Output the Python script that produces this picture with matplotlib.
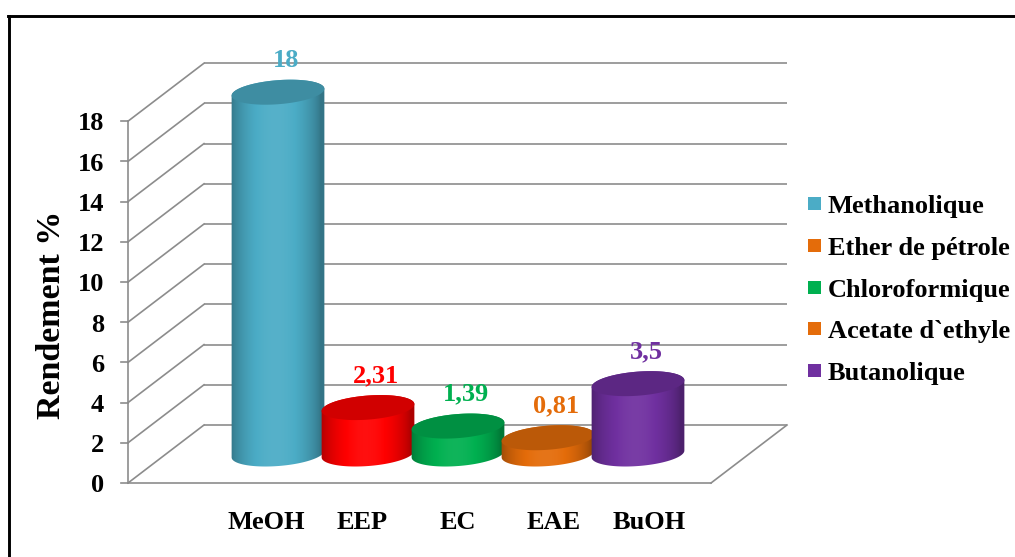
import numpy as np
import matplotlib
matplotlib.use("Agg")
import matplotlib.pyplot as plt
from matplotlib.patches import Polygon, Rectangle
from matplotlib.colors import to_rgb

# ---------------- data ----------------
categories = ["MeOH", "EEP", "EC", "EAE", "BuOH"]
values = [18, 2.31, 1.39, 0.81, 3.5]
value_labels = ["18", "2,31", "1,39", "0,81", "3,5"]
bar_colors = ["#4BACC6", "#FF0000", "#00B050", "#E46C0A", "#7030A0"]
label_colors = ["#4BACC6", "#FF0000", "#00B050", "#E46C0A", "#7030A0"]
legend_labels = ["Methanolique", "Ether de pétrole", "Chloroformique",
                 "Acetate d`ethyle", "Butanolique"]
legend_colors = ["#4BACC6", "#E46C0A", "#00B050", "#E46C0A", "#7030A0"]
y_ticks = [0, 2, 4, 6, 8, 10, 12, 14, 16, 18]
y_label = "Rendement %"

# ---------------- layout ----------------
W, H = 1015, 557
CAT_PX = 90.0      # pixels per category step
VAL_PX = 20.1      # pixels per value unit
X0, Y0 = 240.0, 483.0  # pixel position of (category 0, value 0) on the front plane
DEPTH_PX = (76.0, 58.0)
DX, DY = DEPTH_PX[0] / CAT_PX, DEPTH_PX[1] / VAL_PX
RX, RY, TILT = 46.5, 12.0, np.deg2rad(4.5)
FONT = "Liberation Serif"
GRID_C = "#8C8C8C"


def pxX(p):
    return (p - X0) / CAT_PX


def pxY(p):
    return (Y0 - p) / VAL_PX


fig = plt.figure(figsize=(W / 100, H / 100), dpi=100)
ax = fig.add_axes([0, 0, 1, 1])
ax.set_xlim(pxX(0), pxX(W))
ax.set_ylim(pxY(H), pxY(0))
ax.axis("off")

xl = pxX(128)
xr = pxX(711)

# walls and floor
for v in y_ticks:
    ax.plot([xl + DX, xr + DX], [v + DY, v + DY], color=GRID_C, lw=1.2, zorder=1,
            solid_capstyle="butt")
    ax.plot([xl, xl + DX], [v, v + DY], color=GRID_C, lw=1.2, zorder=1)
    ax.plot([xl - 7 / CAT_PX, xl], [v, v], color=GRID_C, lw=1.2, zorder=1)
    ax.text(xl - 24 / CAT_PX, v - 9.3 / VAL_PX, str(v), ha="right", va="baseline",
            fontsize=19, fontweight="bold", family=FONT, color="black")
ax.plot([xl, xl], [0, y_ticks[-1]], color=GRID_C, lw=1.2, zorder=1)
ax.plot([xl, xr], [0, 0], color=GRID_C, lw=1.2, zorder=1)
ax.plot([xr, xr + DX], [0, DY], color=GRID_C, lw=1.2, zorder=1)


def shade(rgb, s):
    rgb = np.array(rgb)
    if s <= 1:
        return rgb * s
    return rgb + (1 - rgb) * (s - 1)


def ell(cx, cy, t):
    ex, ey = RX * np.cos(t), RY * np.sin(t)
    X = ex * np.cos(TILT) - ey * np.sin(TILT)
    Y = ex * np.sin(TILT) + ey * np.cos(TILT)
    return cx + X / CAT_PX, cy + Y / VAL_PX


tR = np.arctan2(-RY * np.sin(TILT), RX * np.cos(TILT))
tL = tR + np.pi

for i, (v, c) in enumerate(zip(values, bar_colors)):
    base = to_rgb(c)
    cx = i + 0.5 * DX
    y0 = 0.5 * DY
    y1 = y0 + v
    # body silhouette
    t_low = np.linspace(tL, tR + 2 * np.pi, 120)
    t_up = np.linspace(tR, tL, 120)
    bx, by = ell(cx, y0, t_low)
    ux, uy = ell(cx, y1, t_up)
    body = Polygon(np.column_stack([np.r_[bx, ux], np.r_[by, uy]]), closed=True,
                   facecolor="none", edgecolor="none", zorder=3 + 2 * i)
    ax.add_patch(body)
    u = np.linspace(0, 1, 200)
    prof = 0.68 + 0.38 * np.sin(np.pi * np.clip(u * 1.05, 0, 1)) ** 0.7
    grad = np.array([shade(base, s) for s in prof])[None, :, :]
    grad = np.clip(grad, 0, 1)
    im = ax.imshow(grad, extent=[cx - RX / CAT_PX * 1.01, cx + RX / CAT_PX * 1.01,
                                 y0 - 2 * RY / VAL_PX, y1 + 2 * RY / VAL_PX],
                   aspect="auto", interpolation="bilinear", zorder=3 + 2 * i)
    im.set_clip_path(body)
    # top ellipse
    tt = np.linspace(0, 2 * np.pi, 200)
    tx, ty = ell(cx, y1, tt)
    ax.add_patch(Polygon(np.column_stack([tx, ty]), closed=True,
                         facecolor=shade(base, 0.82), edgecolor="none",
                         zorder=4 + 2 * i))
    # value label
    ax.text(cx + 8 / CAT_PX, y1 + 32 / VAL_PX, value_labels[i], ha="center",
            va="center", fontsize=19, fontweight="bold", family=FONT,
            color=label_colors[i], zorder=20)
    # category label
    lx = (2 + 0.5 * DX) + (i - 2) * (95.8 / CAT_PX)
    ax.text(lx, pxY(529), categories[i], ha="center", va="baseline", fontsize=19,
            fontweight="bold", family=FONT, color="black")

# y label
ax.text(pxX(52), pxY(315), y_label, rotation=90, ha="center", va="center",
        fontsize=24.5, fontweight="bold", family=FONT, color="black")

# legend
for k, (lab, col) in enumerate(zip(legend_labels, legend_colors)):
    bl = 213 + 41.75 * k
    ax.add_patch(Rectangle((pxX(808), pxY(bl - 3)), 13 / CAT_PX, 13 / VAL_PX,
                           facecolor=col, edgecolor="none", clip_on=False))
    ax.text(pxX(828), pxY(bl), lab, ha="left", va="baseline", fontsize=19,
            fontweight="bold", family=FONT, color="black")

# outer frame (top and left)
ax.plot([pxX(8), pxX(W)], [pxY(16), pxY(16)], color="black", lw=2.1, clip_on=False)
ax.plot([pxX(9), pxX(9)], [pxY(16), pxY(H)], color="black", lw=2.1, clip_on=False)

fig.savefig("out.png", dpi=100)
